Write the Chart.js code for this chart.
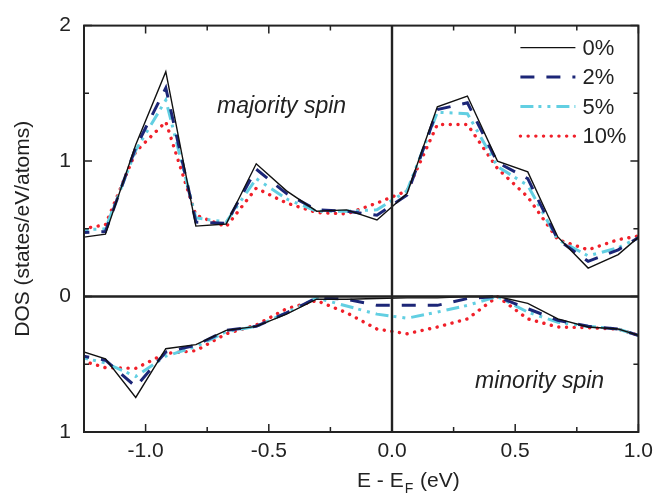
<!DOCTYPE html>
<html>
<head>
<meta charset="utf-8">
<script src="https://cdn.jsdelivr.net/npm/chart.js@4/dist/chart.umd.min.js"></script>
<style>
  html, body { margin: 0; padding: 0; background: #fff; }
</style>
</head>
<body>
<canvas id="dosChart" width="660" height="493"></canvas>
<script>
// energy grid (eV), relative to E_F
const energies = [-1.285, -1.163, -1.040, -0.918, -0.796, -0.673, -0.551, -0.428, -0.306, -0.184,
                  -0.061, 0.061, 0.184, 0.306, 0.428, 0.551, 0.673, 0.796, 0.918, 1.040];

// majority spin DOS
const maj0  = [0.43, 0.46, 1.12, 1.66, 0.52, 0.535, 0.98, 0.78, 0.63, 0.64, 0.565, 0.76, 1.40, 1.48, 1.00, 0.92, 0.44, 0.21, 0.31, 0.50];
const maj2  = [0.47, 0.48, 1.10, 1.54, 0.55, 0.54, 0.94, 0.76, 0.64, 0.63, 0.60, 0.75, 1.38, 1.43, 0.99, 0.87, 0.42, 0.26, 0.345, 0.48];
const maj5  = [0.49, 0.50, 1.08, 1.45, 0.58, 0.55, 0.87, 0.72, 0.63, 0.63, 0.64, 0.78, 1.36, 1.35, 0.96, 0.82, 0.42, 0.30, 0.36, 0.47];
const maj10 = [0.49, 0.53, 1.07, 1.29, 0.60, 0.515, 0.80, 0.69, 0.62, 0.61, 0.69, 0.78, 1.27, 1.27, 0.945, 0.735, 0.42, 0.345, 0.42, 0.46];

// minority spin DOS (plotted downward)
const min0  = [-0.39, -0.46, -0.745, -0.385, -0.355, -0.25, -0.22, -0.13, -0.02, -0.02, -0.015, -0.01, -0.01, 0.0, 0.0, -0.05, -0.165, -0.225, -0.24, -0.31];
const min2  = [-0.43, -0.47, -0.665, -0.41, -0.36, -0.25, -0.22, -0.12, -0.01, -0.02, -0.065, -0.065, -0.065, -0.015, 0.0, -0.09, -0.175, -0.22, -0.24, -0.31];
const min5  = [-0.44, -0.49, -0.59, -0.44, -0.37, -0.26, -0.22, -0.12, -0.01, -0.07, -0.13, -0.16, -0.115, -0.065, 0.0, -0.115, -0.19, -0.22, -0.24, -0.31];
const min10 = [-0.46, -0.525, -0.53, -0.42, -0.40, -0.275, -0.21, -0.09, -0.03, -0.12, -0.24, -0.275, -0.225, -0.165, 0.0, -0.165, -0.225, -0.23, -0.24, -0.31];

const seriesNames = ['0%', '2%', '5%', '10%'];

// line style per doping level
const styles = [
    { color: '#111111', width: 1.4, dash: [], cap: 'butt' },
    { color: '#1c2677', width: 3, dash: [14, 12], cap: 'butt' },
    { color: '#62cfe2', width: 3, dash: [13, 5, 3, 6, 3, 6], cap: 'butt' },
    { color: '#f0202a', width: 3.4, dash: [0.1, 7.6], cap: 'round' }
];

const FONT = '"Liberation Sans", Arial, Helvetica, sans-serif';

function toPoints(values) {
    return energies.map((e, i) => ({ x: e, y: values[i] }));
}

function makeDataset(values, idx, legend) {
    const s = styles[idx];
    return {
        label: seriesNames[idx],
        data: toPoints(values),
        borderColor: s.color,
        borderWidth: s.width,
        borderDash: s.dash,
        borderCapStyle: s.cap,
        pointRadius: 0,
        tension: 0,
        fill: false,
        clip: 0,
        showInLegend: legend
    };
}

const datasets = [
    makeDataset(maj0, 0, true), makeDataset(maj2, 1, true),
    makeDataset(maj5, 2, true), makeDataset(maj10, 3, true),
    makeDataset(min0, 0, false), makeDataset(min2, 1, false),
    makeDataset(min5, 2, false), makeDataset(min10, 3, false)
];

// frame, inward ticks, zero lines, labels and legend
const framePlugin = {
    id: 'frame',
    afterDatasetsDraw(chart) {
        const ctx = chart.ctx;
        const a = chart.chartArea;
        const xs = chart.scales.x;
        const ys = chart.scales.y;
        ctx.save();
        ctx.strokeStyle = '#222';
        ctx.setLineDash([]);

        // zero lines
        ctx.lineWidth = 2.4;
        const y0 = ys.getPixelForValue(0);
        const x0 = xs.getPixelForValue(0);
        ctx.beginPath();
        ctx.moveTo(a.left, y0); ctx.lineTo(a.right, y0);
        ctx.moveTo(x0, a.top); ctx.lineTo(x0, a.bottom);
        ctx.stroke();

        // ticks
        ctx.lineWidth = 1.5;
        ctx.beginPath();
        xs.ticks.forEach(t => {
            const px = xs.getPixelForValue(t.value);
            const major = Math.abs(t.value * 2 - Math.round(t.value * 2)) < 1e-6;
            const len = major ? 8 : 5;
            ctx.moveTo(px, a.bottom); ctx.lineTo(px, a.bottom - len);
            ctx.moveTo(px, a.top); ctx.lineTo(px, a.top + len);
        });
        ys.ticks.forEach(t => {
            const py = ys.getPixelForValue(t.value);
            const major = Number.isInteger(t.value);
            const len = major ? 8 : 5;
            ctx.moveTo(a.left, py); ctx.lineTo(a.left + len, py);
            ctx.moveTo(a.right, py); ctx.lineTo(a.right - len, py);
        });
        ctx.stroke();

        // box
        ctx.lineWidth = 2;
        ctx.strokeRect(a.left, a.top, a.right - a.left, a.bottom - a.top);

        // spin labels
        ctx.fillStyle = '#222';
        ctx.font = 'italic 23px ' + FONT;
        ctx.textAlign = 'left';
        ctx.textBaseline = 'alphabetic';
        ctx.fillText('majority spin', xs.getPixelForValue(-0.71), ys.getPixelForValue(1.355));
        ctx.fillText('minority spin', xs.getPixelForValue(0.337), ys.getPixelForValue(-0.675));

        // x axis title with subscript
        ctx.font = '21px ' + FONT;
        let tx = x0 - 35;
        const ty = 487;
        ctx.fillText('E - E', tx, ty);
        tx += ctx.measureText('E - E').width;
        ctx.font = '14px ' + FONT;
        ctx.fillText('F', tx + 1, ty + 6);
        tx += ctx.measureText('F').width + 2;
        ctx.font = '21px ' + FONT;
        ctx.fillText(' (eV)', tx, ty);

        // legend
        const lx = a.right - 118;
        let ly = a.top + 22;
        ctx.font = '22px ' + FONT;
        ctx.textBaseline = 'middle';
        chart.data.datasets.forEach(ds => {
            if (!ds.showInLegend) return;
            ctx.save();
            ctx.strokeStyle = ds.borderColor;
            ctx.lineWidth = ds.borderWidth;
            ctx.setLineDash(ds.borderDash);
            ctx.lineCap = ds.borderCapStyle;
            ctx.beginPath();
            ctx.moveTo(lx, ly); ctx.lineTo(lx + 55, ly);
            ctx.stroke();
            ctx.restore();
            ctx.fillText(ds.label, lx + 62, ly + 1);
            ly += 29.5;
        });
        ctx.restore();
    }
};

new Chart(document.getElementById('dosChart'), {
    type: 'line',
    data: { datasets: datasets },
    options: {
        responsive: false,
        animation: false,
        layout: { padding: { left: 0, right: 15, top: 20, bottom: 0 } },
        plugins: {
            legend: { display: false },
            tooltip: { enabled: false }
        },
        scales: {
            x: {
                type: 'linear',
                min: -1.25,
                max: 1.0,
                grid: { display: false, drawTicks: false },
                border: { display: false },
                ticks: {
                    stepSize: 0.25,
                    autoSkip: false,
                    maxRotation: 0,
                    padding: 7,
                    color: '#222',
                    font: { family: FONT, size: 21 },
                    callback: (v) => Math.abs(v * 2 - Math.round(v * 2)) < 1e-6 ? v.toFixed(1) : ''
                },
                afterFit: (scale) => { scale.height = 61; }
            },
            y: {
                min: -1,
                max: 2,
                grid: { display: false, drawTicks: false },
                border: { display: false },
                ticks: {
                    stepSize: 0.5,
                    padding: 13,
                    color: '#222',
                    font: { family: FONT, size: 21 },
                    callback: (v) => Number.isInteger(v) ? String(Math.abs(v)) : ''
                },
                title: {
                    display: true,
                    text: 'DOS (states/eV/atoms)',
                    color: '#222',
                    font: { family: FONT, size: 21 },
                    padding: { top: 11, bottom: 0 }
                },
                afterFit: (scale) => { scale.width = 84; }
            }
        }
    },
    plugins: [framePlugin]
});
</script>
</body>
</html>
